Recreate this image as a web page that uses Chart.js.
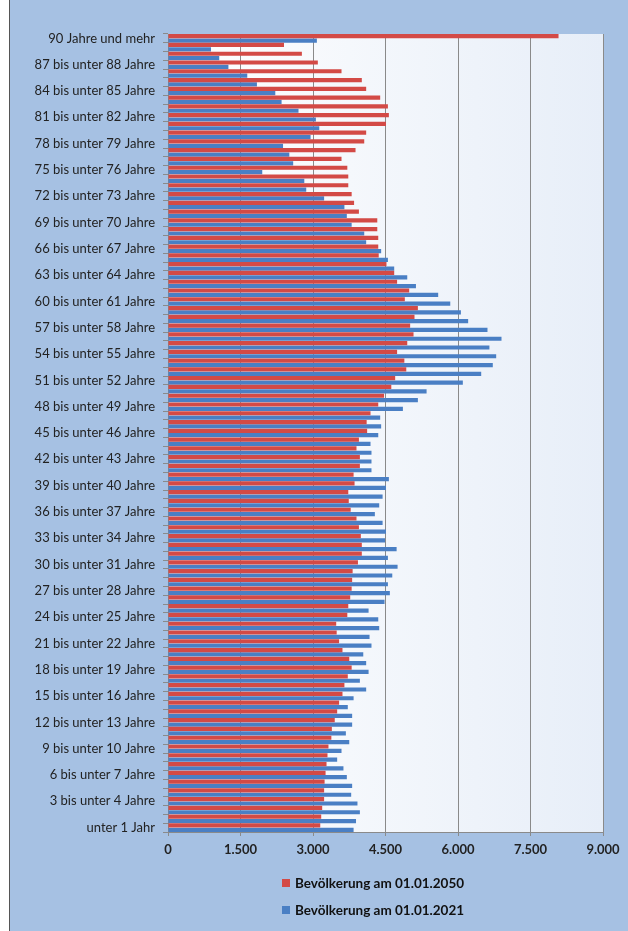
<!DOCTYPE html>
<html>
<head>
<meta charset="utf-8">
<script src="https://cdn.jsdelivr.net/npm/chart.js"></script>
<style>
body { margin: 0; background: #fff; }
#frame {
    position: absolute; left: 9px; top: 0; width: 619px; height: 931px;
    background: #a6c1e3; border-left: 1px solid #555; box-sizing: border-box;
}
#chart { position: absolute; left: 0; top: 0; }
#legend {
    position: absolute; left: 272px; top: 869px;
    font: bold 13.5px Lato, sans-serif; color: #111;
}
.item { height: 27px; display: flex; align-items: center; }
.box { width: 8px; height: 8px; margin-right: 5px; }
</style>
</head>
<body>
<div id="frame">
    <canvas id="chart" width="618" height="931"></canvas>
    <div id="legend"></div>
</div>
<script>
// age groups, youngest first (drawn bottom to top)
var ageLabels = [
    "unter 1 Jahr", "1 bis unter 2 Jahre", "2 bis unter 3 Jahre", "3 bis unter 4 Jahre", "4 bis unter 5 Jahre",
    "5 bis unter 6 Jahre", "6 bis unter 7 Jahre", "7 bis unter 8 Jahre", "8 bis unter 9 Jahre", "9 bis unter 10 Jahre",
    "10 bis unter 11 Jahre", "11 bis unter 12 Jahre", "12 bis unter 13 Jahre", "13 bis unter 14 Jahre", "14 bis unter 15 Jahre",
    "15 bis unter 16 Jahre", "16 bis unter 17 Jahre", "17 bis unter 18 Jahre", "18 bis unter 19 Jahre", "19 bis unter 20 Jahre",
    "20 bis unter 21 Jahre", "21 bis unter 22 Jahre", "22 bis unter 23 Jahre", "23 bis unter 24 Jahre", "24 bis unter 25 Jahre",
    "25 bis unter 26 Jahre", "26 bis unter 27 Jahre", "27 bis unter 28 Jahre", "28 bis unter 29 Jahre", "29 bis unter 30 Jahre",
    "30 bis unter 31 Jahre", "31 bis unter 32 Jahre", "32 bis unter 33 Jahre", "33 bis unter 34 Jahre", "34 bis unter 35 Jahre",
    "35 bis unter 36 Jahre", "36 bis unter 37 Jahre", "37 bis unter 38 Jahre", "38 bis unter 39 Jahre", "39 bis unter 40 Jahre",
    "40 bis unter 41 Jahre", "41 bis unter 42 Jahre", "42 bis unter 43 Jahre", "43 bis unter 44 Jahre", "44 bis unter 45 Jahre",
    "45 bis unter 46 Jahre", "46 bis unter 47 Jahre", "47 bis unter 48 Jahre", "48 bis unter 49 Jahre", "49 bis unter 50 Jahre",
    "50 bis unter 51 Jahre", "51 bis unter 52 Jahre", "52 bis unter 53 Jahre", "53 bis unter 54 Jahre", "54 bis unter 55 Jahre",
    "55 bis unter 56 Jahre", "56 bis unter 57 Jahre", "57 bis unter 58 Jahre", "58 bis unter 59 Jahre", "59 bis unter 60 Jahre",
    "60 bis unter 61 Jahre", "61 bis unter 62 Jahre", "62 bis unter 63 Jahre", "63 bis unter 64 Jahre", "64 bis unter 65 Jahre",
    "65 bis unter 66 Jahre", "66 bis unter 67 Jahre", "67 bis unter 68 Jahre", "68 bis unter 69 Jahre", "69 bis unter 70 Jahre",
    "70 bis unter 71 Jahre", "71 bis unter 72 Jahre", "72 bis unter 73 Jahre", "73 bis unter 74 Jahre", "74 bis unter 75 Jahre",
    "75 bis unter 76 Jahre", "76 bis unter 77 Jahre", "77 bis unter 78 Jahre", "78 bis unter 79 Jahre", "79 bis unter 80 Jahre",
    "80 bis unter 81 Jahre", "81 bis unter 82 Jahre", "82 bis unter 83 Jahre", "83 bis unter 84 Jahre", "84 bis unter 85 Jahre",
    "85 bis unter 86 Jahre", "86 bis unter 87 Jahre", "87 bis unter 88 Jahre", "88 bis unter 89 Jahre", "89 bis unter 90 Jahre",
    "90 Jahre und mehr"
];

var pop2050 = [
    3150, 3170, 3190, 3230, 3230, 3240, 3260, 3280, 3300, 3320,
    3380, 3390, 3450, 3500, 3540, 3610, 3650, 3720, 3800, 3750,
    3610, 3540, 3490, 3480, 3710, 3730, 3770, 3800, 3810, 3820,
    3930, 4010, 4010, 3990, 3950, 3900, 3780, 3740, 3730, 3860,
    3840, 3970, 3970, 3900, 3950, 4120, 4110, 4190, 4350, 4470,
    4620, 4700, 4930, 4890, 4740, 4950, 5080, 5010, 5100, 5170,
    4900, 4990, 4740, 4680, 4520, 4360, 4350, 4350, 4330, 4330,
    3950, 3850, 3800, 3730, 3730, 3710, 3590, 3880, 4060, 4100,
    4510, 4570, 4550, 4390, 4100, 4010, 3590, 3100, 2770, 2400,
    8080
];

var pop2021 = [
    3840, 3890, 3970, 3920, 3790, 3810, 3700, 3630, 3500, 3590,
    3750, 3680, 3810, 3810, 3720, 3840, 4100, 3970, 4150, 4100,
    4040, 4210, 4170, 4370, 4350, 4150, 4480, 4590, 4550, 4640,
    4750, 4550, 4730, 4490, 4510, 4440, 4280, 4370, 4440, 4510,
    4570, 4210, 4210, 4210, 4190, 4350, 4410, 4390, 4860, 5170,
    5350, 6100, 6480, 6720, 6790, 6650, 6900, 6610, 6210, 6060,
    5840, 5590, 5130, 4950, 4680, 4550, 4410, 4100, 4060, 3800,
    3700, 3650, 3230, 2860, 2820, 1950, 2590, 2510, 2380, 2950,
    3130, 3060, 2700, 2350, 2220, 1840, 1640, 1250, 1060, 890,
    3080
];

var seriesNames = ["Bevölkerung am 01.01.2050", "Bevölkerung am 01.01.2021"];
var seriesColors = ["#d34a46", "#4a7fc4"];
var xTicks = [0, 1500, 3000, 4500, 6000, 7500, 9000];

function dots(v) {
    return String(v).replace(/\B(?=(\d{3})+(?!\d))/g, '.');
}

// plot area background, white fading to pale blue
var plotBg = {
    id: 'plotBg',
    beforeDraw: function (chart) {
        var a = chart.chartArea, ctx = chart.ctx;
        var g = ctx.createLinearGradient(a.left, 0, a.right, 0);
        g.addColorStop(0, '#ffffff');
        g.addColorStop(1, '#e7eef8');
        ctx.save();
        ctx.fillStyle = g;
        ctx.fillRect(a.left, a.top, a.right - a.left, a.bottom - a.top);
        ctx.restore();
    }
};

var chart = new Chart("chart", {
    type: "bar",
    data: {
        labels: ageLabels,
        datasets: [{
            label: seriesNames[0],
            data: pop2050,
            backgroundColor: seriesColors[0]
        }, {
            label: seriesNames[1],
            data: pop2021,
            backgroundColor: seriesColors[1]
        }]
    },
    options: {
        indexAxis: 'y',
        responsive: false,
        animation: false,
        datasets: { bar: { categoryPercentage: 1.0, barPercentage: 0.96, borderWidth: 0 } },
        layout: { padding: { left: 0, right: 25, top: 34, bottom: 72 } },
        plugins: {
            legend: { display: false },
            tooltip: { enabled: false }
        },
        scales: {
            y: {
                reverse: true,
                afterFit: function (s) { s.width = 158; },
                grid: { drawOnChartArea: false, offset: true, tickLength: 5, color: '#8a8a8a' },
                border: { color: '#8a8a8a' },
                ticks: {
                    autoSkip: false,
                    padding: 8,
                    color: '#222',
                    font: { family: 'Lato', size: 13 },
                    callback: function (val, idx) {
                        return idx % 3 === 0 ? this.getLabelForValue(val) : '';
                    }
                }
            },
            x: {
                min: 0,
                max: 9000,
                afterFit: function (s) { s.height = 27; },
                afterBuildTicks: function (s) {
                    s.ticks = xTicks.map(function (v) { return { value: v }; });
                },
                grid: { color: '#8a8a8a', tickLength: 4 },
                border: { color: '#8a8a8a' },
                ticks: {
                    padding: 6,
                    color: '#222',
                    font: { family: 'Lato', size: 13, weight: 'bold' },
                    callback: function (v) { return dots(v); }
                }
            }
        }
    },
    plugins: [plotBg]
});

// stacked legend below the chart
var leg = document.getElementById('legend');
chart.data.datasets.forEach(function (ds) {
    var row = document.createElement('div');
    row.className = 'item';
    var box = document.createElement('span');
    box.className = 'box';
    box.style.background = ds.backgroundColor;
    row.appendChild(box);
    row.appendChild(document.createTextNode(ds.label));
    leg.appendChild(row);
});
</script>
</body>
</html>
